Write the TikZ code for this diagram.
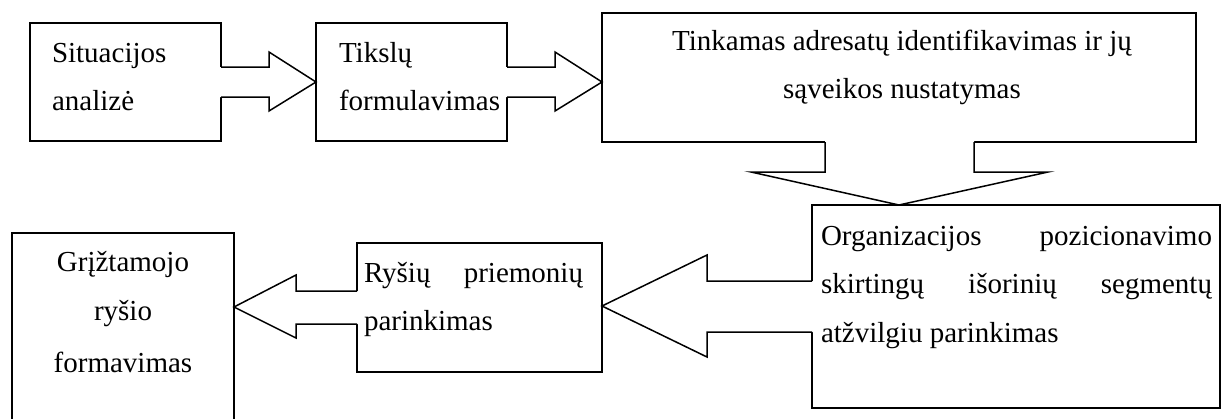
\documentclass[tikz,border=0pt]{standalone}
\usepackage{fontspec}
\setmainfont{Liberation Serif}
\begin{document}
\begin{tikzpicture}[x=1pt,y=-1pt,
  ln/.style={line width=1.5pt,black},
  box/.style={draw,line width=1.5pt,rectangle,inner sep=0pt,outer sep=0pt,anchor=north west,fill=white},
  txt/.style={inner sep=0pt,outer sep=0pt,font=\fontsize{29}{34}\selectfont}]
\useasboundingbox (0,0) rectangle (1222,418);
% boxes
\node[box,minimum width=191pt,minimum height=118pt] (b1) at (30,23) {};
\node[box,minimum width=191pt,minimum height=118pt] (b2) at (316,23) {};
\node[box,minimum width=594pt,minimum height=129pt] (b3) at (602,13) {};
\node[box,minimum width=408pt,minimum height=203pt] (b4) at (812,205) {};
\node[box,minimum width=245pt,minimum height=129pt] (b5) at (357,243) {};
\node[box,minimum width=222pt,minimum height=200pt] (b6) at (12,233) {};
% arrow 1
\fill[white] (219,67) -- (269,67) -- (269,52) -- (316,82) -- (269,111) -- (269,97) -- (219,97) -- cycle;
\draw[ln] (b1.east |- 0,67) -- (269,67) -- (269,52) -- (b2.west |- 0,82) -- (269,111) -- (269,97) -- (b1.east |- 0,97);
% arrow 2
\fill[white] (505,67) -- (555,67) -- (555,52) -- (602,82) -- (555,111) -- (555,97) -- (505,97) -- cycle;
\draw[ln] (b2.east |- 0,67) -- (555,67) -- (555,52) -- (b3.west |- 0,82) -- (555,111) -- (555,97) -- (b2.east |- 0,97);
% down arrow
\fill[white] (825,140) -- (825,172) -- (751,172) -- (899,205) -- (1048,172) -- (974,172) -- (974,140) -- cycle;
\draw[ln] (825,0 |- b3.south) -- (825,172) -- (751,172) -- (b4.north -| 899,0) -- (1048,172) -- (974,172) -- (974,0 |- b3.south);
% arrow 3
\fill[white] (814,281) -- (707,281) -- (707,255) -- (602,306) -- (707,357) -- (707,332) -- (814,332) -- cycle;
\draw[ln] (b4.west |- 0,281) -- (707,281) -- (707,255) -- (b5.east |- 0,306) -- (707,357) -- (707,332) -- (b4.west |- 0,332);
% arrow 4
\fill[white] (359,291) -- (296,291) -- (296,275) -- (234,307) -- (296,338) -- (296,324) -- (359,324) -- cycle;
\draw[ln] (b5.west |- 0,291) -- (296,291) -- (296,275) -- (b6.east |- 0,307) -- (296,338) -- (296,324) -- (b5.west |- 0,324);
% texts
\node[txt,anchor=base west] (t1a) at (52,62) {Situacijos};
\node[txt,anchor=base west] (t1b) at (52,110) {analizė};
\node[txt,anchor=base west] (t2a) at (339,62) {Tikslų};
\node[txt,anchor=base west] (t2b) at (339,110) {formulavimas};
\node[txt,anchor=base] (t3a) at (902,50) {Tinkamas adresatų identifikavimas ir jų};
\node[txt,anchor=base] (t3b) at (902,98) {sąveikos nustatymas};
\node[txt,anchor=base west] (t4a) at (821,245) {\makebox[391pt][s]{Organizacijos pozicionavimo}};
\node[txt,anchor=base west] (t4b) at (821,293) {\makebox[391pt][s]{skirtingų išorinių segmentų}};
\node[txt,anchor=base west] (t4c) at (821,342) {atžvilgiu parinkimas};
\node[txt,anchor=base west] (t5a) at (364,282) {\makebox[219pt][s]{Ryšių priemonių}};
\node[txt,anchor=base west] (t5b) at (364,330) {parinkimas};
\node[txt,anchor=base] (t6a) at (123,271) {Grįžtamojo};
\node[txt,anchor=base] (t6b) at (123,320) {ryšio};
\node[txt,anchor=base] (t6c) at (123,372) {formavimas};
\end{tikzpicture}
\end{document}
